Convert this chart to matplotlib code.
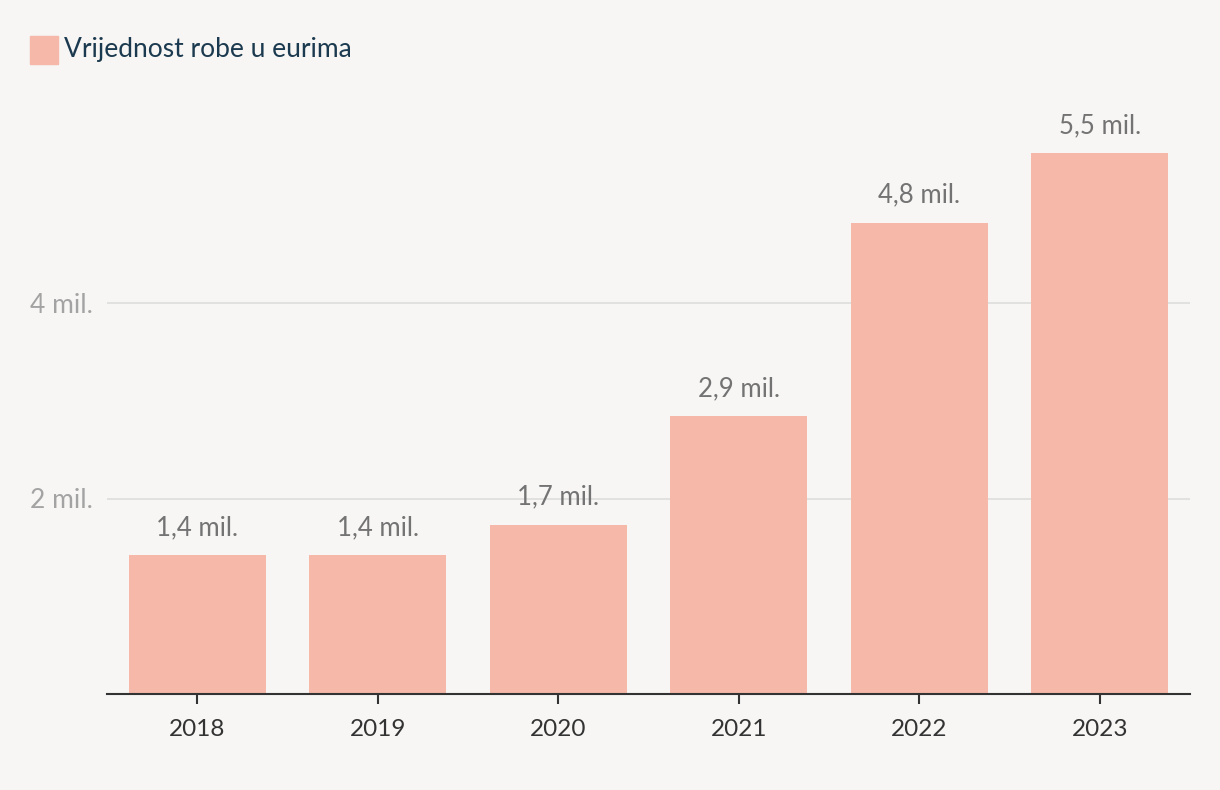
import matplotlib.pyplot as plt
from matplotlib.patches import Rectangle

# data
years = ['2018', '2019', '2020', '2021', '2022', '2023']
values = [1.42, 1.42, 1.73, 2.84, 4.82, 5.53]
labels = ['1,4 mil.', '1,4 mil.', '1,7 mil.', '2,9 mil.', '4,8 mil.', '5,5 mil.']
yticks = [2, 4]
ytick_labels = ['2 mil.', '4 mil.']

bg = '#f7f6f4'
bar_color = '#f5b8a9'

plt.rcParams['font.family'] = ['Lato', 'DejaVu Sans']

fig = plt.figure(figsize=(12.2, 7.9), dpi=100, facecolor=bg)
ax = fig.add_axes([107 / 1220, 96 / 790, (1190 - 107) / 1220, (694 - 107.5) / 790])
ax.set_facecolor(bg)

x = range(len(years))
ax.bar(x, values, width=0.76, color=bar_color, zorder=2)

for xi, v, lab in zip(x, values, labels):
    ax.annotate(lab, (xi, v), xytext=(0, 11), textcoords='offset points',
                ha='center', va='bottom', fontsize=18.5, color='#737373')

ax.set_xlim(-0.5, len(years) - 0.5)
ax.set_ylim(0, 6)
ax.set_xticks(list(x))
ax.set_xticklabels(years, fontsize=17.5, color='#333333')
ax.set_yticks(yticks)
ax.set_yticklabels(ytick_labels, fontsize=19, color='#a3a3a3')
ax.tick_params(axis='x', length=7, width=1.5, color='#333333', pad=11)
ax.tick_params(axis='y', length=0, pad=10)
ax.grid(axis='y', color='#dddddd', linewidth=1.2, zorder=0)

for s in ['top', 'right', 'left']:
    ax.spines[s].set_visible(False)
ax.spines['bottom'].set_color('#333333')
ax.spines['bottom'].set_linewidth(1.5)
ax.spines['bottom'].set_zorder(3)

# legend
fig.patches.append(Rectangle((30 / 1220, 1 - 64 / 790), 28 / 1220, 28 / 790,
                             transform=fig.transFigure, color=bar_color))
fig.text(64 / 1220, 1 - 50 / 790, 'Vrijednost robe u eurima', fontsize=19,
         color='#1c3a4f', va='center', ha='left')

fig.savefig('out.png', dpi=100, facecolor=bg)
